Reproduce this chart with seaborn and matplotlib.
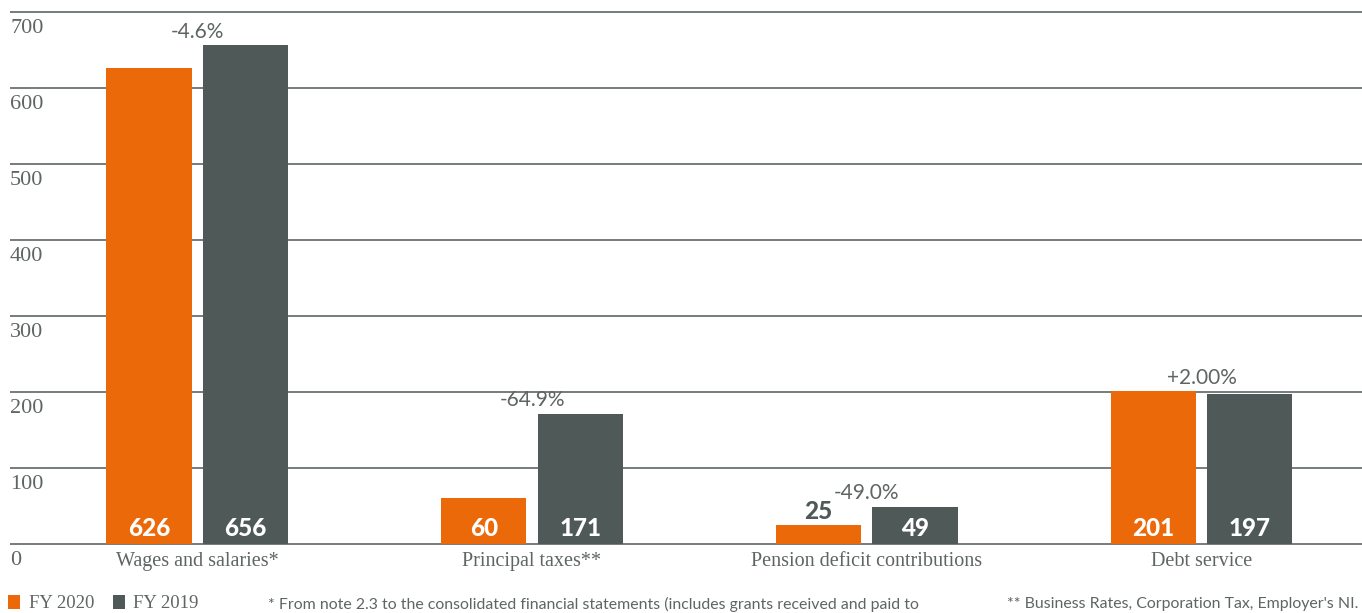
import matplotlib
matplotlib.use("Agg")
import matplotlib.pyplot as plt
import matplotlib.transforms as mtransforms
from matplotlib.patches import Patch
import pandas as pd
import seaborn as sns

# ---- data -------------------------------------------------------------
categories = ["Wages and salaries*", "Principal taxes**",
              "Pension deficit contributions", "Debt service"]
fy2020 = [626, 60, 25, 201]
fy2019 = [656, 171, 49, 197]
changes = ["-4.6%", "-64.9%", "-49.0%", "+2.00%"]
years = ["FY 2020", "FY 2019"]
yticks = [0, 100, 200, 300, 400, 500, 600, 700]
note_1 = ("* From note 2.3 to the consolidated financial statements "
          "(includes grants received and paid to")
note_2 = "** Business Rates, Corporation Tax, Employer's NI."

ORANGE = "#EB6909"
SLATE = "#4E5958"
TEXT = "#5E6564"
GRID = "#4F5857"

df = pd.DataFrame({
    "category": categories * 2,
    "year": [years[0]] * 4 + [years[1]] * 4,
    "value": fy2020 + fy2019,
})

sns.set_theme(style="white")
plt.rcParams["font.family"] = ["Liberation Serif", "DejaVu Serif"]

W, H = 1362, 613
fig = plt.figure(figsize=(W / 100, H / 100), dpi=100)
ax = fig.add_axes([10 / W, 1 - 545.5 / H, 1352 / W, 535 / H])

sns.barplot(data=df, x="category", y="value", hue="year",
            hue_order=years, palette=[ORANGE, SLATE],
            width=0.5766, gap=0.119, saturation=1, linewidth=0,
            edgecolor="none", legend=False, ax=ax, zorder=3)

ax.set_xlim(-0.5594, 3.4795)
ax.set_ylim(-2, 702)
ax.set_yticks(yticks)
ax.set_yticklabels([])
ax.tick_params(axis="y", length=0)
ax.yaxis.grid(True, color=GRID, linewidth=1.1)
ax.xaxis.grid(False)
ax.set_axisbelow(True)
for s in ax.spines.values():
    s.set_visible(False)
ax.set_xlabel("")
ax.set_ylabel("")

# category labels
ax.tick_params(axis="x", length=0, pad=5)
ax.set_xticks(range(len(categories)))
ax.set_xticklabels(categories, fontsize=14.5, color=TEXT,
                   family=["Liberation Serif"])

# y tick labels sit just under each gridline at the left edge
ylab_tr = mtransforms.blended_transform_factory(ax.transAxes, ax.transData)
for v in yticks:
    ax.annotate(str(v), xy=(0, v), xycoords=ylab_tr,
                xytext=(0, -5), textcoords="offset points",
                ha="left", va="top", fontsize=16, color=TEXT,
                family=["Liberation Serif"], annotation_clip=False)

# value labels at the foot of each bar
for container in ax.containers:
    for bar in container:
        val = bar.get_height()
        cx = bar.get_x() + bar.get_width() / 2
        if val >= 40:
            ax.annotate(f"{val:.0f}", xy=(cx, 0), xytext=(0, 6),
                        textcoords="offset points", ha="center",
                        va="baseline", fontsize=17.5, color="white",
                        family=["Lato"], fontweight="black", zorder=5)
        else:
            ax.annotate(f"{val:.0f}", xy=(cx, val), xytext=(0, 4.5),
                        textcoords="offset points", ha="center",
                        va="baseline", fontsize=17.5, color=SLATE,
                        family=["Lato"], fontweight="black", zorder=5)

# year-on-year change above each pair
for i, txt in enumerate(changes):
    top = max(fy2020[i], fy2019[i])
    ax.annotate(txt, xy=(i, top), xytext=(0, 5.5),
                textcoords="offset points", ha="center", va="baseline",
                fontsize=15, color=TEXT, family=["Lato"],
                fontweight="normal", zorder=5)

# legend and notes along the bottom
handles = [Patch(facecolor=ORANGE, edgecolor="none"),
           Patch(facecolor=SLATE, edgecolor="none")]
fig.legend(handles, years, loc="center left",
           bbox_to_anchor=(8 / W, 1 - 603.5 / H), ncol=2, frameon=False,
           handlelength=0.65, handleheight=0.8, handletextpad=0.45,
           columnspacing=1.0, borderpad=0, borderaxespad=0,
           prop={"family": "Liberation Serif", "size": 13.5},
           labelcolor=TEXT)

fig.text(268 / W, 1 - 604 / H, note_1, ha="left", va="center",
         fontsize=11.4, color=TEXT, family=["Lato"])
fig.text(1358 / W, 1 - 604 / H, note_2, ha="right", va="center",
         fontsize=11.4, color=TEXT, family=["Lato"])

fig.savefig("out.png", dpi=100, facecolor="white")
